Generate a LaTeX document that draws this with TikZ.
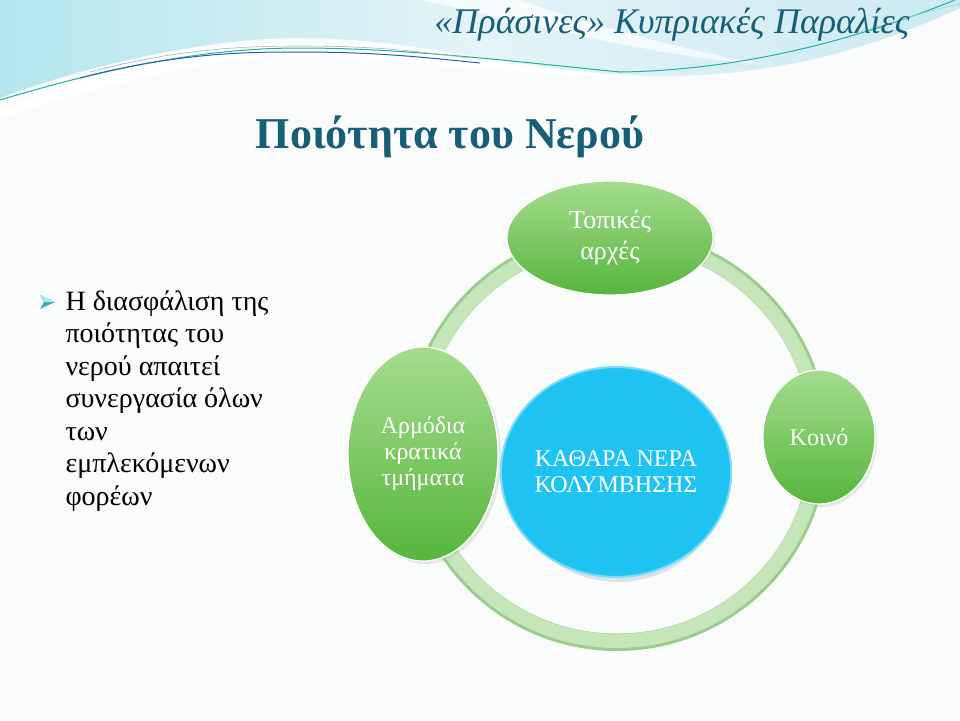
\documentclass[tikz,border=0pt]{standalone}
\usepackage{fontspec}
\setmainfont{Liberation Serif}
\usetikzlibrary{shapes.geometric}
\definecolor{titleteal}{HTML}{175F76}
\definecolor{bgcol}{HTML}{FAFBFB}
\definecolor{skyA}{HTML}{B4E6EE}
\definecolor{skyB}{HTML}{E4F3F7}
\definecolor{skyC}{HTML}{CDEAF2}
\definecolor{lineteal}{HTML}{1BB39A}
\definecolor{lineblue}{HTML}{2B5FA8}
\definecolor{greenT}{HTML}{A5DC8F}
\definecolor{greenB}{HTML}{56B63C}
\definecolor{ringcol}{HTML}{C4E6B9}
\definecolor{ringdark}{HTML}{9CCB8E}
\definecolor{bluefill}{HTML}{1FC3F2}
\definecolor{bluerim}{HTML}{7DDDF8}
\definecolor{bullcol}{HTML}{2BB7B3}
\tikzset{
  greenell/.style={ellipse, inner sep=0pt, top color=greenT, bottom color=greenB,
     draw=white, line width=1.2pt, text=white, align=center,
     font=\fontsize{23}{27}\selectfont},
  shadowell/.style={ellipse, inner sep=0pt, fill=black!25, opacity=0.35},
  bodytext/.style={anchor=north west, align=left, text=black,
     font=\fontsize{28}{32.5}\selectfont},
}
\begin{document}
\begin{tikzpicture}[x=1pt,y=-1pt]
\useasboundingbox (0,0) rectangle (960,720);
\fill[bgcol] (0,0) rectangle (960,720);
% sky band at top
\shade[left color=skyA, right color=skyC, middle color=skyB]
  (0,0) -- (960,0) -- (960,8) .. controls (880,45) and (780,78) .. (650,76)
  .. controls (520,72) and (420,38) .. (300,38)
  .. controls (200,38) and (80,68) .. (0,98) -- cycle;
\fill[white, opacity=0.7] (420,0) .. controls (520,20) and (640,55) .. (760,64)
  .. controls (660,45) and (560,15) .. (520,0) -- cycle;
\fill[white] (0,110) .. controls (80,78) and (200,42) .. (300,44)
  .. controls (420,46) and (520,72) .. (640,76)
  .. controls (560,80) and (420,60) .. (300,56)
  .. controls (200,56) and (90,90) .. (0,118) -- cycle;
% swoosh lines
\draw[lineteal, line width=1pt] (0,100) .. controls (100,70) and (200,48) .. (300,48)
  .. controls (400,48) and (500,60) .. (620,72)
  .. controls (760,70) and (880,30) .. (955,0);
\draw[lineblue, line width=1pt] (80,78) .. controls (180,52) and (250,52) .. (300,52)
  .. controls (380,52) and (430,58) .. (480,63);
\draw[gray!60, line width=0.6pt] (90,72) .. controls (180,48) and (250,46) .. (300,46)
  .. controls (380,46) and (420,52) .. (470,58);
\draw[lineteal!50, line width=0.7pt] (860,32) .. controls (900,20) and (930,10) .. (960,4);
% titles
\node[anchor=east, text=titleteal, font=\fontsize{36}{40}\selectfont\itshape] (title) at (913,25)
  {«Πράσινες» Κυπριακές Παραλίες};
\node[text=titleteal, font=\fontsize{44}{48}\selectfont\bfseries] (heading) at (450,137)
  {Ποιότητα του Νερού};
% bullet
\fill[bullcol] (40,295) -- (55,302) -- (40,309) -- (44,302) -- cycle;
\fill[bullcol!35] (40,295) -- (55,302) -- (44,302) -- cycle;
\node[bodytext] (bullet) at (62,287)
  {Η διασφάλιση της\\ποιότητας του\\νερού απαιτεί\\συνεργασία όλων\\των\\εμπλεκόμενων\\φορέων};
% ring
\draw[ringdark, line width=18pt] (617,440) circle[radius=202];
\draw[ringcol, line width=14pt] (617,440) circle[radius=201];
\draw[white, line width=1pt] (617,440) circle[radius=193];
% shadows
\node[shadowell, minimum width=206pt, minimum height=114pt] at (612,238) {};
\node[shadowell, minimum width=150pt, minimum height=214pt] at (426,457) {};
\node[shadowell, minimum width=112pt, minimum height=134pt] at (821,440) {};
\node[ellipse, inner sep=0pt, fill=black!30, opacity=0.35, minimum width=218pt, minimum height=212pt] at (618,476) {};
% central circle
\node[ellipse, inner sep=0pt, minimum width=216pt, minimum height=210pt, fill=bluefill,
  draw=bluerim, line width=2pt, text=white, align=center,
  font=\fontsize{24}{26}\selectfont] (center) at (616,472)
  {ΚΑΘΑΡΑ ΝΕΡΑ\\ΚΟΛΥΜΒΗΣΗΣ};
% green ellipses
\node[greenell, minimum width=206pt, minimum height=114pt,
  font=\fontsize{26}{31}\selectfont] (local) at (610,238)
  {Τοπικές\\αρχές};
\node[greenell, minimum width=150pt, minimum height=214pt,
  font=\fontsize{24}{26}\selectfont] (state) at (423,454)
  {Αρμόδια\\κρατικά\\τμήματα};
\node[greenell, minimum width=112pt, minimum height=134pt,
  font=\fontsize{24}{28}\selectfont] (public) at (819,437)
  {Κοινό};
\end{tikzpicture}
\end{document}
